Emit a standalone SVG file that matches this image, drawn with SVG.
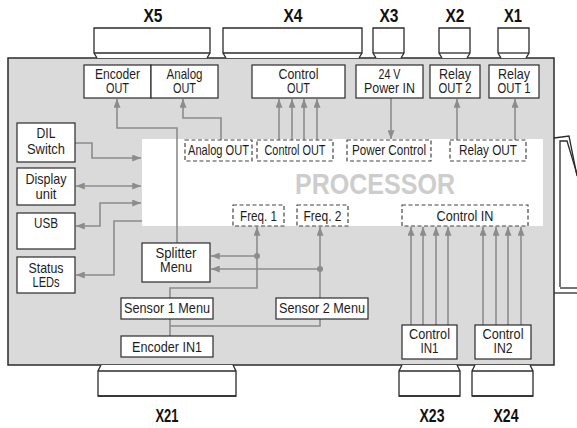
<svg xmlns="http://www.w3.org/2000/svg" width="577" height="428" viewBox="0 0 577 428">
<defs>
<style>
.main{fill:#dadada;stroke:#2b2b2b;stroke-width:1.5}
.box{fill:#fff;stroke:#2b2b2b;stroke-width:1.2}
.dash{fill:none;stroke:#454545;stroke-width:1.2;stroke-dasharray:4 2.5}
.conn{fill:#fff;stroke:#2b2b2b;stroke-width:1.3}
.edge{fill:none;stroke:#2b2b2b;stroke-width:1.3}
.wire{fill:none;stroke:#8c8c8c;stroke-width:1.6}
.dot{fill:#8c8c8c}
.t{font-family:"Liberation Sans Narrow","Liberation Sans",Arial,sans-serif;font-size:14.5px;fill:#1e1e1e;text-anchor:middle}
.x{font-family:"Liberation Sans Narrow","Liberation Sans",Arial,sans-serif;font-size:18px;font-weight:bold;fill:#111;text-anchor:middle}
.proc{font-family:"Liberation Sans Narrow","Liberation Sans",Arial,sans-serif;font-size:30px;font-weight:bold;fill:#cdcdcd;text-anchor:middle}
</style>
<marker id="ah" viewBox="0 0 10 8" refX="10" refY="4" markerWidth="9" markerHeight="7" markerUnits="userSpaceOnUse" orient="auto-start-reverse">
<path d="M0,0 L10,4 L0,8 Z" fill="#8c8c8c"/>
</marker>
</defs>

<!-- side edge of neighbouring device -->
<g id="side">
<path class="edge" d="M554,138 L569,136 L577,176"/>
<path class="edge" d="M560,287 L560,141 L567,141 L577,174"/>
<path class="edge" d="M560,288 H577"/>
<path class="edge" d="M554,293 H577"/>
</g>

<rect id="housing" class="main" x="8" y="58" width="546" height="307"/>

<!-- top connectors -->
<g id="X5"><path class="conn" d="M97,58 L94,53 L94,28 L210,28 L210,53 L207,58"/><path class="edge" d="M94,53 H210"/><text class="x" x="153" y="22" textLength="19" lengthAdjust="spacingAndGlyphs">X5</text></g>
<g id="X4"><path class="conn" d="M226,58 L223,53 L223,28 L362,28 L362,53 L359,58"/><path class="edge" d="M223,53 H362"/><text class="x" x="293" y="22" textLength="19" lengthAdjust="spacingAndGlyphs">X4</text></g>
<g id="X3"><path class="conn" d="M376,58 L373,53 L373,28 L404,28 L404,53 L401,58"/><path class="edge" d="M373,53 H404"/><text class="x" x="389" y="22" textLength="19" lengthAdjust="spacingAndGlyphs">X3</text></g>
<g id="X2"><path class="conn" d="M442,58 L439,53 L439,28 L470,28 L470,53 L467,58"/><path class="edge" d="M439,53 H470"/><text class="x" x="455" y="22" textLength="19" lengthAdjust="spacingAndGlyphs">X2</text></g>
<g id="X1"><path class="conn" d="M501,58 L498,53 L498,28 L529,28 L529,53 L526,58"/><path class="edge" d="M498,53 H529"/><text class="x" x="513" y="22" textLength="18" lengthAdjust="spacingAndGlyphs">X1</text></g>

<!-- bottom connectors -->
<g id="X21"><path class="conn" d="M101,365 L98,371 L98,396 L236,396 L236,371 L233,365"/><path class="edge" d="M98,371 H236"/><path class="edge" d="M98,396 H236" stroke-width="2"/><text class="x" x="167" y="422" textLength="23" lengthAdjust="spacingAndGlyphs">X21</text></g>
<g id="X23"><path class="conn" d="M402,365 L399,371 L399,396 L460,396 L460,371 L457,365"/><path class="edge" d="M399,371 H460"/><path class="edge" d="M399,396 H460" stroke-width="2"/><text class="x" x="432" y="422" textLength="25" lengthAdjust="spacingAndGlyphs">X23</text></g>
<g id="X24"><path class="conn" d="M475,365 L472,371 L472,396 L533,396 L533,371 L530,365"/><path class="edge" d="M472,371 H533"/><path class="edge" d="M472,396 H533" stroke-width="2"/><text class="x" x="506" y="422" textLength="25" lengthAdjust="spacingAndGlyphs">X24</text></g>

<!-- processor -->
<g id="processor">
<rect x="142" y="139" width="401" height="87" fill="#fff"/>
<text class="proc" x="375" y="194" textLength="160" lengthAdjust="spacingAndGlyphs">PROCESSOR</text>
</g>

<!-- connectors -->
<g id="connectors">
<path class="wire" d="M177,243 V128 H117 V99" marker-end="url(#ah)"/>
<path class="wire" d="M221,140 V118 H183 V99" marker-end="url(#ah)"/>
<path class="wire" d="M279,140 V99" marker-end="url(#ah)"/>
<path class="wire" d="M292,140 V99" marker-end="url(#ah)"/>
<path class="wire" d="M304,140 V99" marker-end="url(#ah)"/>
<path class="wire" d="M317,140 V99" marker-end="url(#ah)"/>
<path class="wire" d="M391,98 V139" marker-end="url(#ah)"/>
<path class="wire" d="M457,140 V99" marker-end="url(#ah)"/>
<path class="wire" d="M515,140 V99" marker-end="url(#ah)"/>
<path class="wire" d="M75,143 H92 V158 H141" marker-end="url(#ah)"/>
<path class="wire" d="M76,186 H141" marker-start="url(#ah)" marker-end="url(#ah)"/>
<path class="wire" d="M141,203 H100 V226 H76" marker-start="url(#ah)" marker-end="url(#ah)"/>
<path class="wire" d="M142,221 H114 V275 H76" marker-end="url(#ah)"/>
<path class="wire" d="M170,298 V288 H257 V227" marker-end="url(#ah)"/>
<path class="wire" d="M257,256 H211" marker-end="url(#ah)"/>
<circle class="dot" cx="257" cy="256" r="3"/>
<path class="wire" d="M320,298 V227" marker-end="url(#ah)"/>
<path class="wire" d="M320,269 H211" marker-end="url(#ah)"/>
<circle class="dot" cx="320" cy="269" r="3"/>
<path class="wire" d="M170,319 V336 M170,326 H320 V319"/>
<path class="wire" d="M411,325 V227" marker-end="url(#ah)"/>
<path class="wire" d="M423,325 V227" marker-end="url(#ah)"/>
<path class="wire" d="M436,325 V227" marker-end="url(#ah)"/>
<path class="wire" d="M448,325 V227" marker-end="url(#ah)"/>
<path class="wire" d="M483,325 V227" marker-end="url(#ah)"/>
<path class="wire" d="M496,325 V227" marker-end="url(#ah)"/>
<path class="wire" d="M508,325 V227" marker-end="url(#ah)"/>
<path class="wire" d="M521,325 V227" marker-end="url(#ah)"/>
</g>

<!-- top boxes -->
<g id="encoder-out"><rect class="box" x="84" y="65" width="67" height="33"/><text class="t" x="117.5" y="79" textLength="45" lengthAdjust="spacingAndGlyphs">Encoder</text><text class="t" x="117.5" y="93" textLength="23" lengthAdjust="spacingAndGlyphs">OUT</text></g>
<g id="analog-out"><rect class="box" x="151" y="65" width="67" height="33"/><text class="t" x="184.5" y="79" textLength="36" lengthAdjust="spacingAndGlyphs">Analog</text><text class="t" x="184.5" y="93" textLength="23" lengthAdjust="spacingAndGlyphs">OUT</text></g>
<g id="control-out"><rect class="box" x="252" y="65" width="93" height="33"/><text class="t" x="298.5" y="79" textLength="40" lengthAdjust="spacingAndGlyphs">Control</text><text class="t" x="298.5" y="93" textLength="23" lengthAdjust="spacingAndGlyphs">OUT</text></g>
<g id="power-in"><rect class="box" x="356" y="65" width="67" height="33"/><text class="t" x="389.5" y="79" textLength="22" lengthAdjust="spacingAndGlyphs">24 V</text><text class="t" x="389.5" y="93" textLength="51" lengthAdjust="spacingAndGlyphs">Power IN</text></g>
<g id="relay-out2"><rect class="box" x="430" y="65" width="50" height="33"/><text class="t" x="455" y="79" textLength="32" lengthAdjust="spacingAndGlyphs">Relay</text><text class="t" x="455" y="93" textLength="33" lengthAdjust="spacingAndGlyphs">OUT 2</text></g>
<g id="relay-out1"><rect class="box" x="489" y="65" width="50" height="33"/><text class="t" x="514" y="79" textLength="32" lengthAdjust="spacingAndGlyphs">Relay</text><text class="t" x="514" y="93" textLength="33" lengthAdjust="spacingAndGlyphs">OUT 1</text></g>

<!-- left boxes -->
<g id="dil"><rect class="box" x="17" y="123" width="58" height="39"/><text class="t" x="46" y="138" textLength="19" lengthAdjust="spacingAndGlyphs">DIL</text><text class="t" x="46" y="154" textLength="38" lengthAdjust="spacingAndGlyphs">Switch</text></g>
<g id="display"><rect class="box" x="17" y="168" width="58" height="37"/><text class="t" x="46" y="184" textLength="41" lengthAdjust="spacingAndGlyphs">Display</text><text class="t" x="46" y="199" textLength="21" lengthAdjust="spacingAndGlyphs">unit</text></g>
<g id="usb"><rect class="box" x="17" y="213" width="58" height="36"/><text class="t" x="46" y="228" textLength="24" lengthAdjust="spacingAndGlyphs">USB</text></g>
<g id="status"><rect class="box" x="17" y="257" width="58" height="36"/><text class="t" x="46" y="273" textLength="35" lengthAdjust="spacingAndGlyphs">Status</text><text class="t" x="46" y="287" textLength="27" lengthAdjust="spacingAndGlyphs">LEDs</text></g>

<!-- dashed processor blocks -->
<g id="d-analog"><rect class="dash" x="185" y="140" width="67" height="21"/><text class="t" x="218.5" y="155" textLength="61" lengthAdjust="spacingAndGlyphs">Analog OUT</text></g>
<g id="d-control"><rect class="dash" x="257" y="140" width="76" height="21"/><text class="t" x="295" y="155" textLength="61" lengthAdjust="spacingAndGlyphs">Control OUT</text></g>
<g id="d-power"><rect class="dash" x="347" y="140" width="84" height="21"/><text class="t" x="389" y="155" textLength="74" lengthAdjust="spacingAndGlyphs">Power Control</text></g>
<g id="d-relay"><rect class="dash" x="450" y="140" width="76" height="21"/><text class="t" x="488" y="155" textLength="58" lengthAdjust="spacingAndGlyphs">Relay OUT</text></g>
<g id="d-freq1"><rect class="dash" x="233" y="205" width="51" height="21"/><text class="t" x="258.5" y="221" textLength="37" lengthAdjust="spacingAndGlyphs">Freq. 1</text></g>
<g id="d-freq2"><rect class="dash" x="297" y="205" width="51" height="21"/><text class="t" x="322.5" y="221" textLength="38" lengthAdjust="spacingAndGlyphs">Freq. 2</text></g>
<g id="d-controlin"><rect class="dash" x="402" y="205" width="126" height="21"/><text class="t" x="465" y="221" textLength="57" lengthAdjust="spacingAndGlyphs">Control IN</text></g>

<!-- lower boxes -->
<g id="splitter"><rect class="box" x="142" y="243" width="68" height="39"/><text class="t" x="176" y="258" textLength="41" lengthAdjust="spacingAndGlyphs">Splitter</text><text class="t" x="176" y="272" textLength="32" lengthAdjust="spacingAndGlyphs">Menu</text></g>
<g id="sensor1"><rect class="box" x="121" y="298" width="92" height="21"/><text class="t" x="167" y="313" textLength="86" lengthAdjust="spacingAndGlyphs">Sensor 1 Menu</text></g>
<g id="encoder-in1"><rect class="box" x="121" y="336" width="92" height="21"/><text class="t" x="167" y="352" textLength="70" lengthAdjust="spacingAndGlyphs">Encoder IN1</text></g>
<g id="sensor2"><rect class="box" x="276" y="298" width="92" height="21"/><text class="t" x="322" y="313" textLength="86" lengthAdjust="spacingAndGlyphs">Sensor 2 Menu</text></g>
<g id="control-in1"><rect class="box" x="402" y="325" width="55" height="34"/><text class="t" x="429.5" y="339" textLength="41" lengthAdjust="spacingAndGlyphs">Control</text><text class="t" x="429.5" y="353" textLength="18" lengthAdjust="spacingAndGlyphs">IN1</text></g>
<g id="control-in2"><rect class="box" x="475" y="325" width="56" height="34"/><text class="t" x="503" y="339" textLength="41" lengthAdjust="spacingAndGlyphs">Control</text><text class="t" x="503" y="353" textLength="19" lengthAdjust="spacingAndGlyphs">IN2</text></g>
</svg>
